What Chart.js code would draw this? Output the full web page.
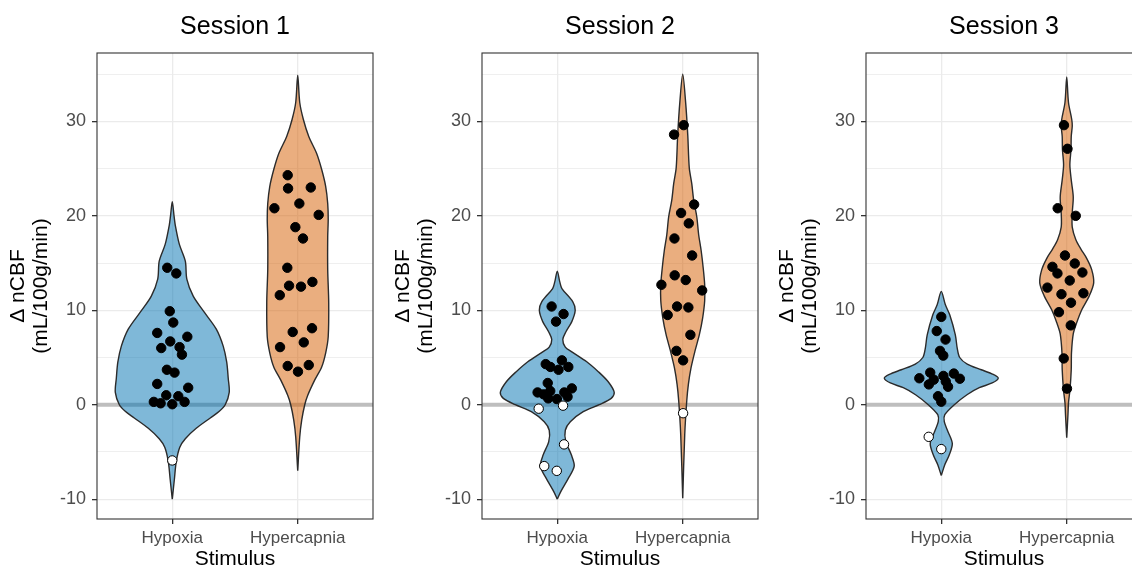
<!DOCTYPE html>
<html><head><meta charset="utf-8">
<script src="https://cdn.jsdelivr.net/npm/chart.js@4/dist/chart.umd.min.js"></script>
<style>
html,body{margin:0;padding:0;background:#fff;width:1132px;height:570px;overflow:hidden;}
.panel{position:absolute;top:0;width:385px;height:570px;}
</style></head><body>
<div class="panel" style="left:0px"><canvas id="c1" width="385" height="570"></canvas></div>
<div class="panel" style="left:385px"><canvas id="c2" width="385" height="570"></canvas></div>
<div class="panel" style="left:769px"><canvas id="c3" width="385" height="570"></canvas></div>
<script>
// ---------- data ----------
const categories = ['Hypoxia', 'Hypercapnia'];
const sessionTitles = ['Session 1', 'Session 2', 'Session 3'];
const yTickValues = [-10, 0, 10, 20, 30];
const yMinorValues = [-5, 5, 15, 25, 35];
const yAxisTitle = ['Δ nCBF', '(mL/100g/min)'];
const xAxisTitle = 'Stimulus';

// individual responses (value) and horizontal jitter (category units)
const s1HypoxiaValues = [14.5, 13.9, 9.9, 8.7, 7.6, 7.2, 6.7, 6.0, 6.1, 5.3, 3.7, 3.4, 2.2, 1.8, 1.0, 0.9, 0.3, 0.15, 0.05, 0.3, -5.9];
const s1HypoxiaJitter = [-0.04, 0.032, -0.02, 0.008, -0.12, 0.12, -0.016, -0.088, 0.058, 0.077, -0.043, 0.018, -0.12, 0.127, -0.048, 0.048, -0.147, -0.093, 0, 0.098, 0];
const s1HypercapniaValues = [24.3, 22.9, 23.0, 21.3, 20.8, 20.1, 18.8, 17.6, 14.5, 12.6, 12.5, 13.0, 11.6, 8.1, 7.7, 6.6, 6.1, 4.1, 3.5, 4.2];
const s1HypercapniaJitter = [-0.08, -0.077, 0.104, 0.013, -0.186, 0.167, -0.019, 0.042, -0.083, -0.069, 0.026, 0.117, -0.143, 0.114, -0.04, 0.048, -0.141, -0.08, 0.002, 0.088];

const s2HypoxiaValues = [10.4, 9.6, 8.8, 4.3, 4.0, 4.7, 3.7, 4.0, 2.3, 1.3, 1.1, 1.45, 0.67, 0.6, 1.3, 1.73, 0.85, -0.42, -0.1, -4.2, -6.5, -7.0];
const s2HypoxiaJitter = [-0.045, 0.05, -0.01, -0.092, -0.055, 0.037, 0.01, 0.088, -0.076, -0.157, -0.109, -0.056, -0.072, -0.003, 0.056, 0.116, 0.082, -0.148, 0.046, 0.054, -0.104, -0.004];
const s2HypercapniaValues = [29.6, 28.6, 21.2, 20.3, 19.2, 17.6, 15.8, 13.7, 13.2, 12.7, 12.1, 10.4, 10.3, 9.5, 7.4, 5.7, 4.7, -0.9];
const s2HypercapniaJitter = [0.008, -0.069, 0.091, -0.013, 0.048, -0.066, 0.075, -0.064, 0.024, -0.17, 0.155, -0.045, 0.045, -0.12, 0.061, -0.05, 0.003, 0.003];

const s3HypoxiaValues = [9.3, 7.8, 6.9, 5.7, 5.2, 3.4, 2.8, 2.15, 2.65, 3.05, 3.3, 2.75, 2.45, 1.9, 0.9, 0.32, -3.4, -4.7];
const s3HypoxiaJitter = [0, -0.036, 0.034, -0.01, 0.016, -0.088, -0.175, -0.099, -0.06, 0.017, 0.1, 0.148, 0.036, 0.054, -0.026, 0, -0.1, 0];
const s3HypercapniaValues = [29.6, 27.1, 20.8, 20.0, 15.8, 14.6, 14.95, 13.9, 14.0, 13.15, 12.4, 11.7, 11.8, 10.8, 9.8, 8.4, 4.9, 1.7];
const s3HypercapniaJitter = [-0.022, 0.006, -0.072, 0.072, -0.014, -0.114, 0.064, -0.074, 0.125, 0.024, -0.154, -0.042, 0.133, 0.034, -0.062, 0.032, -0.024, 0.002];

// violin outlines: value levels (top to bottom) and density half-widths (category units)
const s1HypoxiaViolinY = [21.5, 20, 19, 17, 15.2, 13.3, 11.5, 9.8, 8, 6.2, 4.5, 2.8, 1.3, 0, -0.7, -1.4, -2.5, -3.6, -4.5, -6, -8, -10];
const s1HypoxiaViolinW = [0, 0.014, 0.024, 0.056, 0.104, 0.116, 0.167, 0.255, 0.351, 0.406, 0.434, 0.446, 0.454, 0.422, 0.375, 0.303, 0.191, 0.104, 0.06, 0.032, 0.016, 0];
const s1HypercapniaViolinY = [34.9, 32, 30.2, 28.4, 26.6, 24.9, 23.1, 21.3, 19.6, 17.8, 14.3, 10.8, 7.2, 5.5, 4.0, 2.6, 1.0, 0, -1.6, -3.4, -7];
const s1HypercapniaViolinW = [0, 0.016, 0.045, 0.088, 0.151, 0.191, 0.223, 0.239, 0.243, 0.239, 0.239, 0.247, 0.243, 0.223, 0.191, 0.135, 0.08, 0.056, 0.032, 0.016, 0];

const s2HypoxiaViolinY = [14.15, 13, 12.3, 10.9, 10, 8.8, 7.7, 6.9, 6.1, 5.6, 4.55, 3.5, 2.43, 1.3, 0.67, 0, -0.74, -1.8, -2.7, -3.9, -5.3, -6.5, -7.8, -9.2, -10];
const s2HypoxiaViolinW = [0, 0.02, 0.037, 0.124, 0.143, 0.116, 0.068, 0.044, 0.064, 0.116, 0.235, 0.327, 0.406, 0.454, 0.43, 0.335, 0.207, 0.104, 0.064, 0.068, 0.112, 0.135, 0.088, 0.028, 0];
const s2HypercapniaViolinY = [35, 32.2, 28.6, 25.1, 23.4, 21.6, 19.9, 18, 16.3, 14.5, 12.7, 11, 9.2, 7.44, 5.7, 3.9, 2.15, 0.39, -3.14, -9.9];
const s2HypercapniaViolinW = [0, 0.022, 0.04, 0.052, 0.072, 0.088, 0.112, 0.127, 0.147, 0.163, 0.175, 0.175, 0.159, 0.133, 0.098, 0.066, 0.045, 0.032, 0.016, 0];

const s3HypoxiaViolinY = [12, 10.6, 9.5, 7.4, 6.0, 5.0, 4.3, 3.7, 3.2, 2.8, 2.3, 1.8, 1.06, 0, -1.06, -1.8, -2.8, -4.1, -5.3, -6.35, -7.5];
const s3HypoxiaViolinW = [0, 0.032, 0.068, 0.112, 0.127, 0.147, 0.207, 0.319, 0.414, 0.454, 0.406, 0.303, 0.205, 0.104, 0.028, 0.024, 0.052, 0.088, 0.064, 0.028, 0];
const s3HypercapniaViolinY = [34.7, 32, 30.2, 29.5, 28.4, 27, 25.4, 23.8, 22, 20.3, 18.8, 17.5, 16.5, 15.5, 14.3, 12.9, 11.5, 10.05, 8.7, 7.5, 5.5, 3.7, 1.6, 0.2, -1, -3.5];
const s3HypercapniaViolinW = [0, 0.014, 0.04, 0.044, 0.036, 0.034, 0.025, 0.036, 0.052, 0.044, 0.044, 0.072, 0.112, 0.159, 0.199, 0.215, 0.179, 0.12, 0.08, 0.052, 0.038, 0.036, 0.026, 0.014, 0.01, 0];

// ---------- styling ----------
const FONT = "'Liberation Sans', Arial, Helvetica, sans-serif";
const FILLS = ['rgba(0,114,178,0.5)', 'rgba(213,94,0,0.5)'];
const OUTLINE = '#2b2b2b';

const panels = [
  { title: sessionTitles[0], groups: [
    { values: s1HypoxiaValues, jitter: s1HypoxiaJitter, vy: s1HypoxiaViolinY, vw: s1HypoxiaViolinW },
    { values: s1HypercapniaValues, jitter: s1HypercapniaJitter, vy: s1HypercapniaViolinY, vw: s1HypercapniaViolinW } ] },
  { title: sessionTitles[1], groups: [
    { values: s2HypoxiaValues, jitter: s2HypoxiaJitter, vy: s2HypoxiaViolinY, vw: s2HypoxiaViolinW },
    { values: s2HypercapniaValues, jitter: s2HypercapniaJitter, vy: s2HypercapniaViolinY, vw: s2HypercapniaViolinW } ] },
  { title: sessionTitles[2], groups: [
    { values: s3HypoxiaValues, jitter: s3HypoxiaJitter, vy: s3HypoxiaViolinY, vw: s3HypoxiaViolinW },
    { values: s3HypercapniaValues, jitter: s3HypercapniaJitter, vy: s3HypercapniaViolinY, vw: s3HypercapniaViolinW } ] }
];

function violinPolygon(center, ys, ws) {
  const pts = [];
  for (let i = ys.length - 1; i >= 0; i--) pts.push({ x: center - ws[i], y: ys[i] });
  for (let i = 1; i < ys.length; i++) pts.push({ x: center + ws[i], y: ys[i] });
  return pts;
}

const panelBorder = {
  id: 'panelBorder',
  afterDraw(chart) {
    const { ctx, chartArea: a } = chart;
    ctx.save();
    ctx.strokeStyle = '#333333';
    ctx.lineWidth = 1.1;
    ctx.strokeRect(a.left, a.top, a.right - a.left, a.bottom - a.top);
    ctx.restore();
  }
};

panels.forEach((p, pi) => {
  const datasets = [];
  // zero reference line
  datasets.push({
    data: [{ x: 0.4, y: 0 }, { x: 2.6, y: 0 }],
    borderColor: '#BEBEBE', borderWidth: 4, pointRadius: 0, fill: false, order: 5
  });
  p.groups.forEach((g, gi) => {
    const c = gi + 1;
    datasets.push({
      data: violinPolygon(c, g.vy, g.vw),
      borderColor: OUTLINE, borderWidth: 1.4, backgroundColor: FILLS[gi],
      fill: 'shape', tension: 0.3, pointRadius: 0, order: 3
    });
    datasets.push({
      data: g.values.map((v, i) => ({ x: c + g.jitter[i], y: v })),
      showLine: false, pointRadius: 4.7, pointBorderWidth: 1,
      pointBorderColor: '#000',
      pointBackgroundColor: ctx => (ctx.raw && ctx.raw.y < 0) ? '#ffffff' : '#000000',
      order: 1
    });
  });

  new Chart(document.getElementById('c' + (pi + 1)), {
    type: 'line',
    data: { datasets },
    plugins: [panelBorder],
    options: {
      responsive: false, animation: false, devicePixelRatio: 1,
      layout: { padding: { left: 0, right: 12, top: 0, bottom: 0 } },
      plugins: {
        legend: { display: false }, tooltip: { enabled: false },
        title: { display: true, text: p.title, fullSize: false, color: '#000',
          font: { family: FONT, size: 25, weight: 'normal', lineHeight: 1.2 },
          padding: { top: 12, bottom: 11 } }
      },
      scales: {
        x: {
          type: 'linear', min: 0.4, max: 2.6,
          afterBuildTicks: s => { s.ticks = categories.map((_, i) => ({ value: i + 1 })); },
          afterFit: s => { s.height = 51; },
          ticks: { callback: v => categories[v - 1] || '', color: '#4D4D4D', padding: 4,
            font: { family: FONT, size: 17 }, maxRotation: 0, autoSkip: false },
          grid: { color: '#EBEBEB', lineWidth: 1.3, tickColor: '#333333', tickLength: 5, drawTicks: true },
          border: { display: false },
          title: { display: true, text: xAxisTitle, color: '#000',
            font: { family: FONT, size: 21, lineHeight: 1 }, padding: { top: 0, bottom: 0 } }
        },
        y: {
          type: 'linear', min: -12.1, max: 37.24,
          afterBuildTicks: s => { s.ticks = yTickValues.concat(yMinorValues).sort((a, b) => a - b).map(v => ({ value: v })); },
          afterFit: s => { s.width = 97; },
          ticks: { callback: v => yTickValues.includes(v) ? String(v) : '', color: '#4D4D4D', padding: 6,
            font: { family: FONT, size: 18 }, autoSkip: false },
          grid: {
            color: '#EBEBEB',
            lineWidth: ctx => (ctx.tick && yTickValues.includes(ctx.tick.value)) ? 1.3 : 0.8,
            tickColor: ctx => (ctx.tick && yTickValues.includes(ctx.tick.value)) ? '#333333' : 'rgba(0,0,0,0)',
            tickLength: 5, drawTicks: true
          },
          border: { display: false },
          title: { display: true, text: yAxisTitle, color: '#000',
            font: { family: FONT, size: 21, lineHeight: 1.12 }, padding: { top: 6, bottom: 0 } }
        }
      }
    }
  });
});
</script>
</body></html>
